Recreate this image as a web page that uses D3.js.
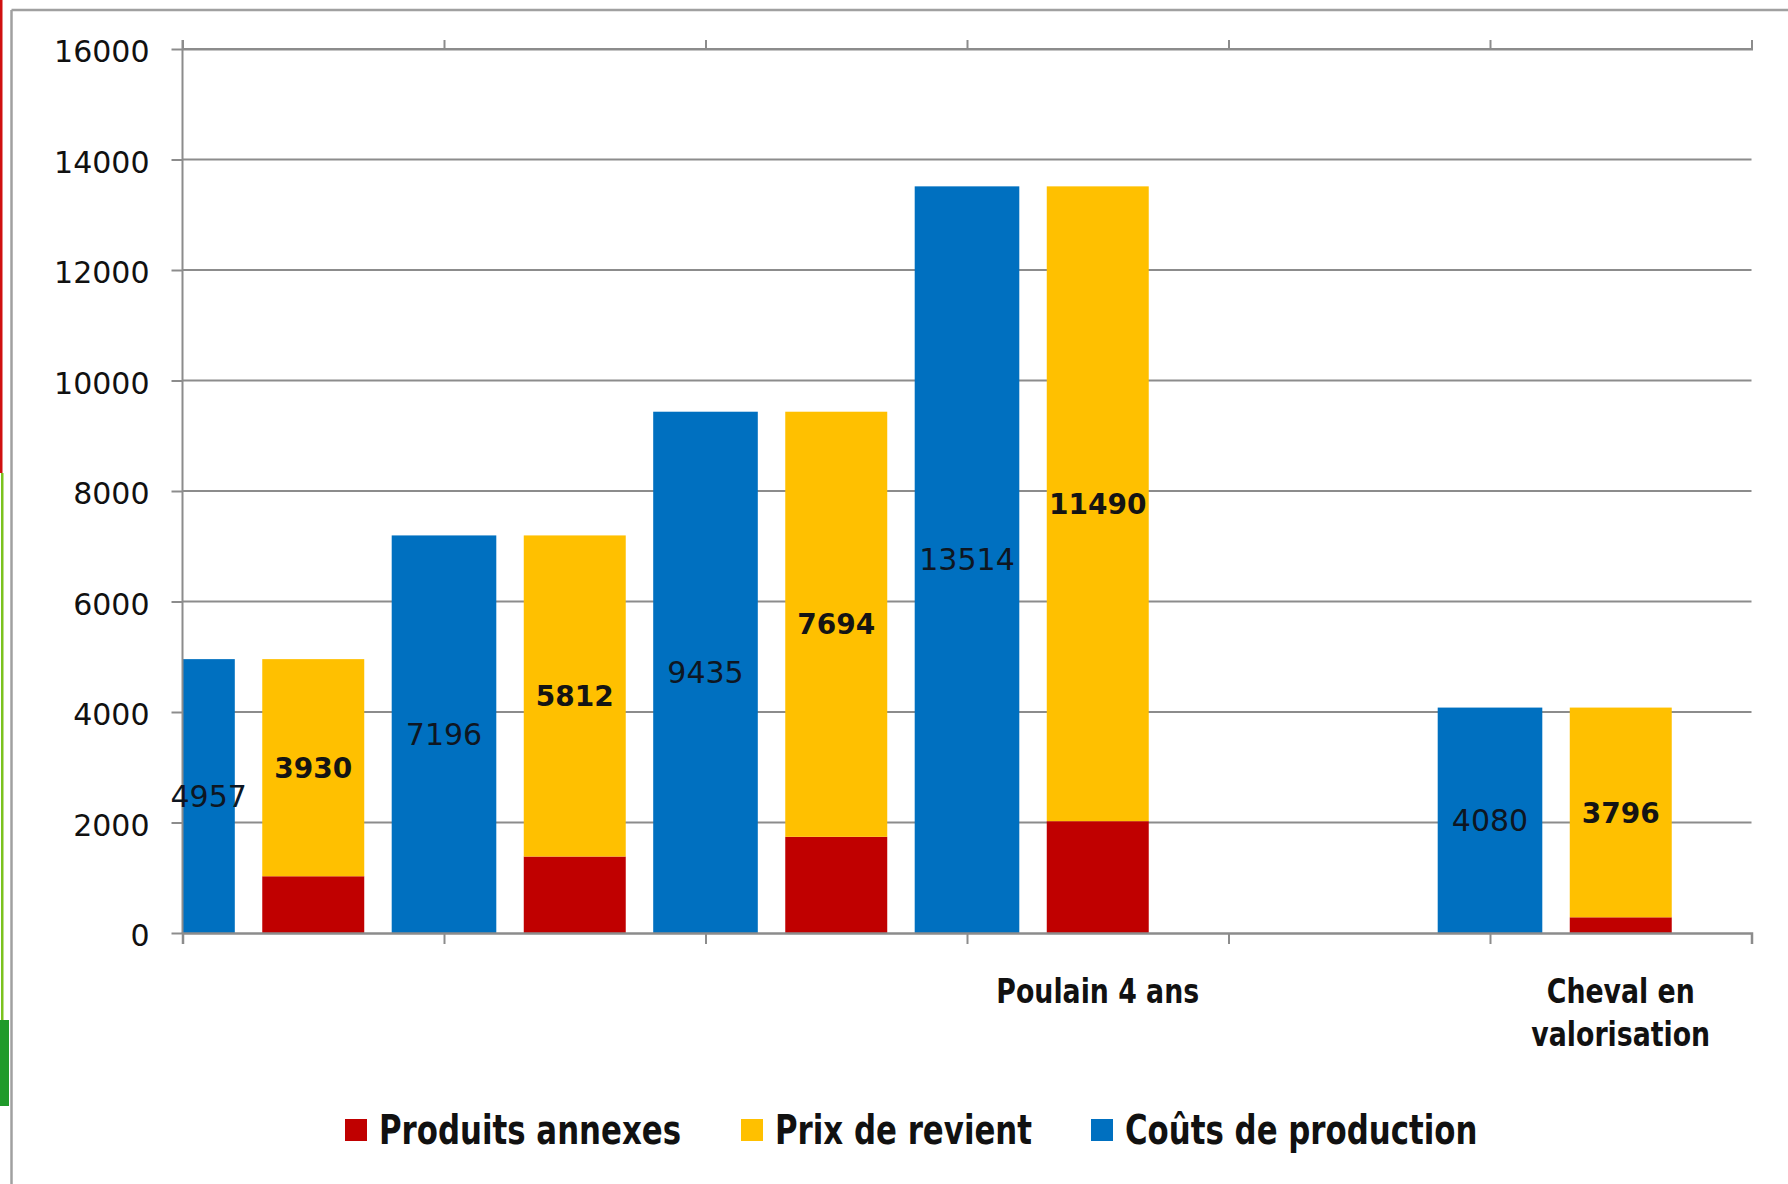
<!DOCTYPE html>
<html>
<head>
<meta charset="utf-8">
<script src="https://cdn.jsdelivr.net/npm/d3@7"></script>
<style>
  html, body { margin: 0; padding: 0; background: #fff; }
  svg { display: block; }
</style>
</head>
<body>
<svg id="chart" width="1788" height="1184"></svg>
<script>
// ---------- data ----------
const categoryLabels = ["", "", "", "Poulain 4 ans", "", "Cheval en valorisation"];
const coutsProduction = [4957, 7196, 9435, 13514, null, 4080];
const prixRevient     = [3930, 5812, 7694, 11490, null, 3796];
const produitsAnnexes = [1027, 1384, 1741, 2024, null, 284];
const yTicks = [0, 2000, 4000, 6000, 8000, 10000, 12000, 14000, 16000];
const seriesNames = ["Produits annexes", "Prix de revient", "Coûts de production"];
const seriesColors = ["#C00000", "#FFC000", "#0070C0"];

// ---------- layout ----------
const svg = d3.select("#chart");
const W = 1788, H = 1184;
const L = 182.5, R = 1751.5, T = 49, B = 933;
const gridColor = "#8c8c8c";
const textColor = "#111111";

svg.append("rect").attr("width", W).attr("height", H).attr("fill", "#fff");

// page artifacts on the left edge
svg.append("rect").attr("x", 0).attr("y", 0).attr("width", 2.5).attr("height", 473).attr("fill", "#d01010");
svg.append("rect").attr("x", 1).attr("y", 473).attr("width", 2.5).attr("height", 548).attr("fill", "#7cc21e");
svg.append("rect").attr("x", 0).attr("y", 1020).attr("width", 9).attr("height", 86).attr("fill", "#1f9a2a");

// outer frame
svg.append("line").attr("x1", 11.5).attr("x2", W).attr("y1", 10).attr("y2", 10)
  .attr("stroke", "#a0a0a0").attr("stroke-width", 2.5);
svg.append("line").attr("x1", 11.5).attr("x2", 11.5).attr("y1", 10).attr("y2", H)
  .attr("stroke", "#a0a0a0").attr("stroke-width", 2.5);

const n = categoryLabels.length;
const x = d3.scaleBand().domain(d3.range(n)).range([L, R]).paddingInner(0).paddingOuter(0);
const xEdge = d3.scaleLinear().domain([0, n]).range([L, R]);
const y = d3.scaleLinear().domain([0, 16000]).range([B, T]);
const bw = x.bandwidth();

// gridlines
svg.append("g").selectAll("line").data(yTicks.filter(v => v > 0)).join("line")
  .attr("x1", L).attr("x2", R)
  .attr("y1", d => y(d)).attr("y2", d => y(d))
  .attr("stroke", gridColor).attr("stroke-width", 2);

// clip
svg.append("clipPath").attr("id", "plotClip")
  .append("rect").attr("x", L).attr("y", T - 5).attr("width", R - L).attr("height", B - T + 5);

const plot = svg.append("g").attr("clip-path", "url(#plotClip)");

// blue bars (centered on category left edge)
const blueW = bw * 0.40;
const blueData = coutsProduction.map((v, i) => ({ i, v })).filter(d => d.v != null);
plot.selectAll("rect.blue").data(blueData).join("rect")
  .attr("class", "blue")
  .attr("x", d => x(d.i) - blueW / 2)
  .attr("width", blueW)
  .attr("y", d => y(d.v))
  .attr("height", d => y(0) - y(d.v))
  .attr("fill", seriesColors[2]);

// stacked bars (centered in band)
const stW = bw * 0.39;
const stackData = produitsAnnexes.map((v, i) => ({ i, a: v, p: prixRevient[i] })).filter(d => d.a != null);
plot.selectAll("rect.red").data(stackData).join("rect")
  .attr("x", d => x(d.i) + bw / 2 - stW / 2)
  .attr("width", stW)
  .attr("y", d => y(d.a))
  .attr("height", d => y(0) - y(d.a))
  .attr("fill", seriesColors[0]);
plot.selectAll("rect.yellow").data(stackData).join("rect")
  .attr("x", d => x(d.i) + bw / 2 - stW / 2)
  .attr("width", stW)
  .attr("y", d => y(d.a + d.p))
  .attr("height", d => y(d.a) - y(d.a + d.p))
  .attr("fill", seriesColors[1]);

// axes
const yAxis = d3.axisLeft(y).tickValues(yTicks).tickSize(11).tickPadding(22).tickFormat(d3.format("d"));
const gy = svg.append("g").attr("transform", `translate(${L},0)`).call(yAxis);
gy.select(".domain").remove();
gy.selectAll(".tick line").attr("stroke", gridColor).attr("stroke-width", 2);
gy.selectAll(".tick text").attr("font-family", "DejaVu Sans, Verdana, sans-serif")
  .attr("font-size", 30).attr("fill", textColor).attr("dy", "0.42em");

svg.append("line").attr("x1", L).attr("x2", L).attr("y1", T - 9).attr("y2", B)
  .attr("stroke", gridColor).attr("stroke-width", 2);

const xb = d3.axisBottom(xEdge).tickValues(d3.range(n + 1)).tickSize(11).tickFormat("");
const gxb = svg.append("g").attr("transform", `translate(0,${B})`).call(xb);
gxb.select(".domain").attr("stroke", gridColor).attr("stroke-width", 2.5);
gxb.selectAll(".tick line").attr("stroke", gridColor).attr("stroke-width", 2);

const xt = d3.axisTop(xEdge).tickValues(d3.range(1, n + 1)).tickSize(9).tickFormat("");
const gxt = svg.append("g").attr("transform", `translate(0,${T})`).call(xt);
gxt.select(".domain").attr("stroke", gridColor).attr("stroke-width", 2);
gxt.selectAll(".tick line").attr("stroke", gridColor).attr("stroke-width", 2);

// data labels
const labelFont = "DejaVu Sans, Verdana, sans-serif";
svg.append("g").selectAll("text").data(blueData).join("text")
  .attr("x", d => {
    const x0 = Math.max(L, x(d.i) - blueW / 2), x1 = Math.min(R, x(d.i) + blueW / 2);
    return (x0 + x1) / 2;
  })
  .attr("y", d => y(d.v / 2))
  .attr("dy", "0.36em")
  .attr("text-anchor", "middle")
  .attr("font-family", labelFont).attr("font-size", 30).attr("fill", "#0e1622")
  .text(d => d.v);

svg.append("g").selectAll("text").data(stackData).join("text")
  .attr("x", d => x(d.i) + bw / 2)
  .attr("y", d => y(d.a + d.p / 2))
  .attr("dy", "0.36em")
  .attr("text-anchor", "middle")
  .attr("font-family", labelFont).attr("font-size", 28).attr("font-weight", "bold").attr("fill", "#141414")
  .text(d => d.p);

// category labels (condensed look via horizontal scaling)
const catFont = "'DejaVu Sans Condensed', 'Liberation Sans Narrow', 'DejaVu Sans', sans-serif";
const catScale = 0.875;
const catG = svg.append("g");
categoryLabels.forEach((lab, i) => {
  if (!lab) return;
  const words = lab.split(" ");
  let lines = [lab];
  if (lab.length > 16) {
    lines = [words.slice(0, 2).join(" "), words.slice(2).join(" ")];
  }
  lines.forEach((ln, k) => {
    catG.append("text")
      .attr("transform", `translate(${x(i) + bw / 2},${991 + k * 43}) scale(${catScale},1)`)
      .attr("dy", "0.36em")
      .attr("text-anchor", "middle")
      .attr("font-family", catFont).attr("font-size", 34).attr("font-weight", "bold")
      .attr("fill", textColor)
      .text(ln);
  });
});

// legend
const legendX = [345, 741, 1091];
const legScale = 0.857;
const legG = svg.append("g");
seriesNames.forEach((nm, k) => {
  legG.append("rect").attr("x", legendX[k]).attr("y", 1130 - 11).attr("width", 22).attr("height", 22)
    .attr("fill", seriesColors[k]);
  legG.append("text")
    .attr("transform", `translate(${legendX[k] + 34},1130) scale(${legScale},1)`)
    .attr("dy", "0.36em")
    .attr("font-family", catFont).attr("font-size", 40).attr("font-weight", "bold")
    .attr("fill", textColor).text(nm);
});
</script>
</body>
</html>
